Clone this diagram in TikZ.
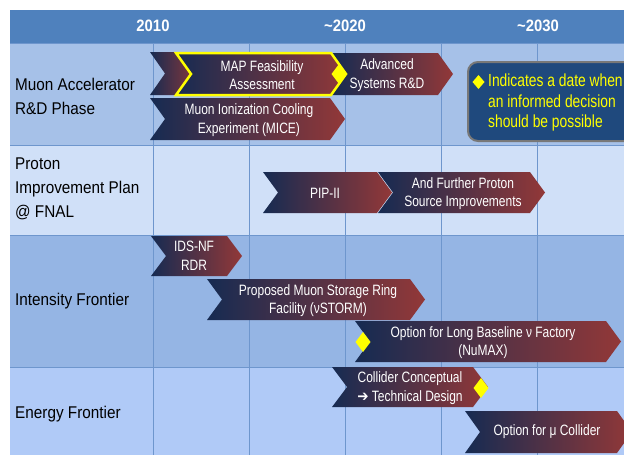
\documentclass[tikz,border=0pt]{standalone}
\usepackage{fontspec}
\setmainfont{Liberation Sans}
\newfontfamily\chevf[FakeStretch=0.8]{Liberation Sans}
\newfontfamily\labf[FakeStretch=0.9]{Liberation Sans}
\newfontfamily\legf[FakeStretch=0.79]{Liberation Sans}
\newfontfamily\yearf[FakeStretch=0.9]{Liberation Sans}
\newfontfamily\symf[FakeStretch=0.9]{DejaVu Sans}
\definecolor{hdr}{RGB}{79,129,189}
\definecolor{rowA}{RGB}{166,193,232}
\definecolor{rowB}{RGB}{208,224,248}
\definecolor{rowC}{RGB}{149,181,228}
\definecolor{rowD}{RGB}{176,202,247}
\definecolor{gridc}{RGB}{110,150,205}
\definecolor{cnavy}{RGB}{22,43,82}
\definecolor{cred}{RGB}{146,56,56}
\definecolor{legbg}{RGB}{31,73,125}
\definecolor{leggray}{RGB}{120,120,120}
\definecolor{dyellow}{RGB}{255,255,0}
\newcommand{\chev}[5][]{%
  \path[left color=cnavy, right color=cred, #1]
    (#2,#4) -- (#3,#4) -- ({#3+15},{(#4+#5)/2}) -- (#3,#5) -- (#2,#5)
    -- ({#2+15},{(#4+#5)/2}) -- cycle;}
\newcommand{\ddiamond}[3]{% x y name
  \fill[dyellow] (#1-7.5,#2) -- (#1,#2-10) -- (#1+7.5,#2) -- (#1,#2+10) -- cycle;
  \coordinate (#3) at (#1,#2);}
\tikzset{
  ctext/.style={text=white, align=center, inner sep=0pt,
    font=\chevf\fontsize{15}{18.5}\selectfont},
  rowlab/.style={anchor=west, align=left, inner sep=0pt, text=black,
    font=\labf\fontsize{17}{24}\selectfont},
  yeartxt/.style={text=white, inner sep=0pt, font=\yearf\bfseries\fontsize{16.5}{18}\selectfont},
  gridline/.style={draw=gridc, line width=0.6pt}
}
\begin{document}
\begin{tikzpicture}[x=1pt,y=-1pt]
\useasboundingbox (0,0) rectangle (624,455);
\clip (0,0) rectangle (624,455);
\fill[white] (0,0) rectangle (624,455);
% rows
\fill[hdr] (10,10) rectangle (624,43);
\fill[rowA] (10,43) rectangle (624,145);
\fill[rowB] (10,145) rectangle (624,235);
\fill[rowC] (10,235) rectangle (624,367);
\fill[rowD] (10,367) rectangle (624,455);
% grid
\foreach \gx in {153,249,345,441,537} \draw[gridline] (\gx,43) -- (\gx,455);
\foreach \gy in {43,145,235,367} \draw[gridline] (10,\gy) -- (624,\gy);
% years
\node[yeartxt] (y2010) at (153,26) {2010};
\node[yeartxt] (y2020) at (345,26) {\textasciitilde2020};
\node[yeartxt] (y2030) at (538,26) {\textasciitilde2030};
% row labels
\node[rowlab] (lab1) at (15,96) {Muon Accelerator\\R\&D Phase};
\node[rowlab] (lab2) at (15,189) {Proton\\Improvement Plan\\@ FNAL};
\node[rowlab] (lab3) at (15,301) {Intensity Frontier};
\node[rowlab] (lab4) at (15,414) {Energy Frontier};
% row 1
\chev{150}{185}{52}{95}
\chev{332}{438}{53}{95}
\chev[draw=dyellow, line width=2.5pt, line join=miter]{176}{331}{53}{95}
\chev{150}{330}{98}{140}
\ddiamond{339}{74}{d1}
\node[ctext] (map) at (262,75) {MAP Feasibility\\Assessment};
\node[ctext] (adv) at (387,75) {Advanced\\Systems R\&D};
\node[ctext] (mice) at (249,120) {Muon Ionization Cooling\\Experiment (MICE)};
% legend
\draw[fill=legbg, draw=leggray, line width=2pt, rounded corners=10pt] (468,62) rectangle (650,141);
\fill[dyellow] (472.5,82) -- (478.5,75) -- (484.5,82) -- (478.5,89) -- cycle;
\node[anchor=west, align=left, inner sep=0pt, text=dyellow,
  font=\legf\fontsize{17.5}{20.5}\selectfont] (leg) at (488,102.5)
  {Indicates a date when\\an informed decision\\should be possible};
% row 2
\chev{263}{377}{172}{213}
\chev{378}{530}{172}{213}
\node[ctext] (pip) at (325,193) {PIP-II};
\node[ctext] (further) at (463,193.5) {And Further Proton\\Source Improvements};
% row 3
\chev{151}{227}{236}{276}
\chev{207}{410}{279}{320}
\chev{355}{606}{321}{362}
\ddiamond{363}{342}{d2}
\node[ctext] (ids) at (194,256) {IDS-NF\\RDR};
\node[ctext] (vstorm) at (318,300.5) {Proposed Muon Storage Ring\\Facility (νSTORM)};
\node[ctext] (numax) at (483,342.5) {Option for Long Baseline ν Factory\\(NuMAX)};
% row 4
\chev{332}{473}{367}{407}
\chev{465}{617}{411}{453}
\ddiamond{481}{388}{d3}
\node[ctext] (coll) at (410,388) {Collider Conceptual\\{\symf ➔} Technical Design};
\node[ctext] (mucoll) at (547,432) {Option for μ Collider};
\end{tikzpicture}
\end{document}
